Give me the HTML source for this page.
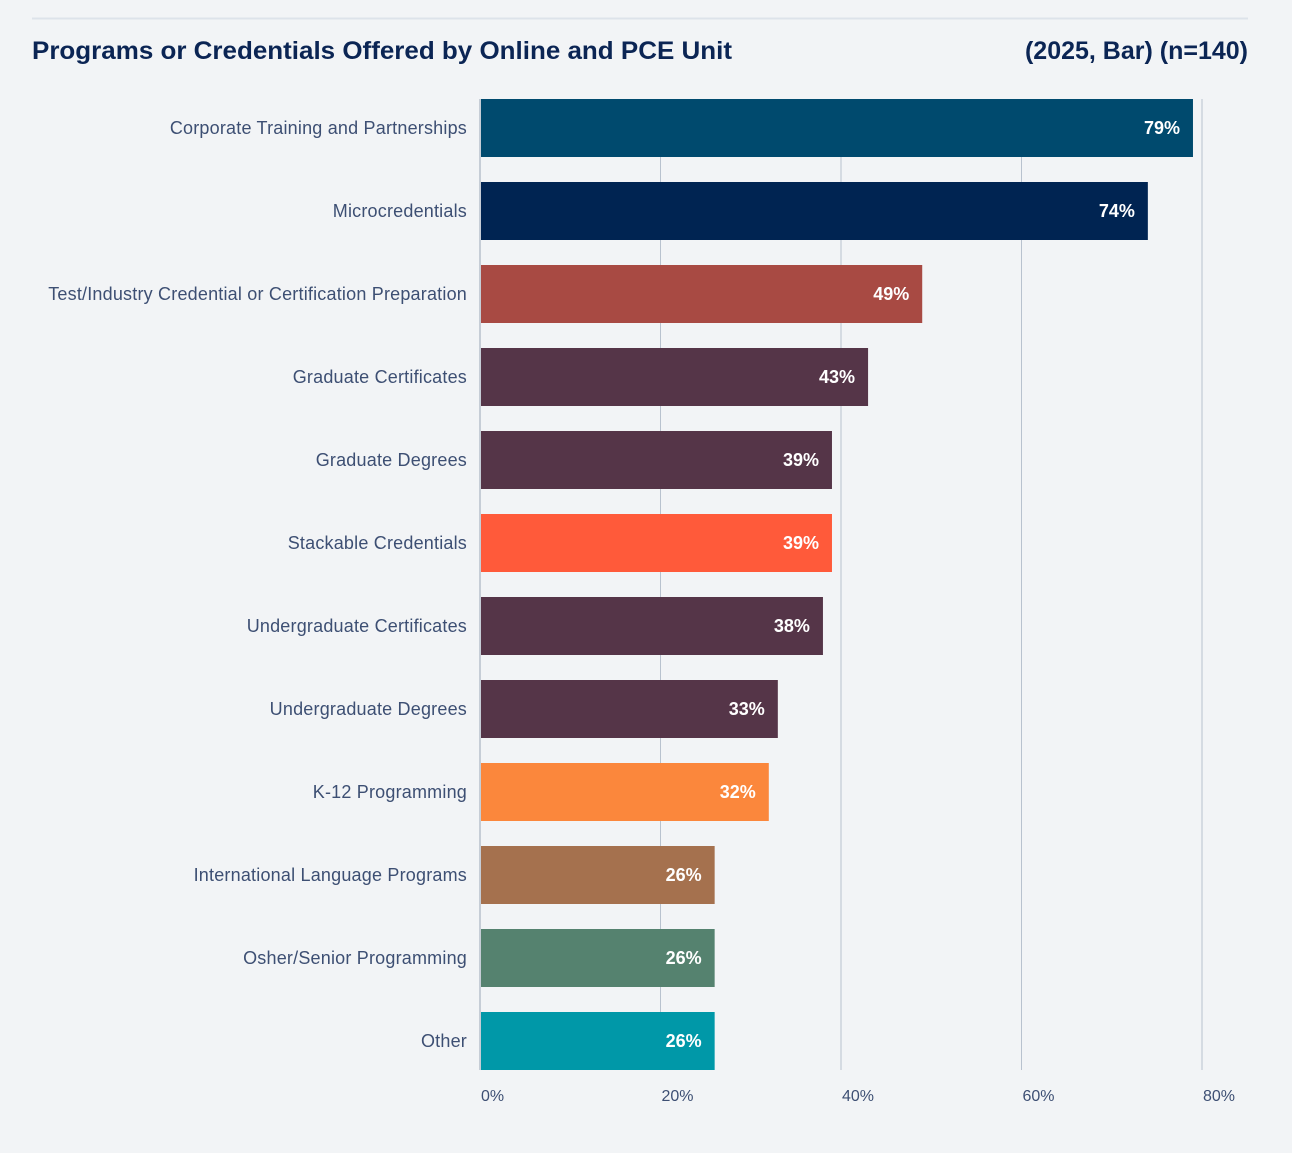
<!DOCTYPE html>
<html><head><meta charset="utf-8"><style>
html,body{margin:0;padding:0;background:#f2f4f6;}
svg{display:block;font-family:"Liberation Sans",sans-serif;}
</style></head><body>
<svg id="chart" width="1292" height="1153" viewBox="0 0 1292 1153">
<rect x="0" y="0" width="1292" height="1153" fill="#f2f4f6"/>
<line x1="32" y1="18.5" x2="1248" y2="18.5" stroke="#dde3ea" stroke-width="2"/>
<text x="32" y="59" font-size="25" font-weight="bold" fill="#0b2554" textLength="700" lengthAdjust="spacingAndGlyphs">Programs or Credentials Offered by Online and PCE Unit</text>
<text x="1248" y="59" font-size="25" font-weight="bold" fill="#0b2554" text-anchor="end">(2025, Bar) (n=140)</text>
<g id="grid"></g><g id="bars"></g><g id="labels"></g><g id="ticks"></g>
</svg>
<script>
const categories=["Corporate Training and Partnerships","Microcredentials","Test/Industry Credential or Certification Preparation","Graduate Certificates","Graduate Degrees","Stackable Credentials","Undergraduate Certificates","Undergraduate Degrees","K-12 Programming","International Language Programs","Osher/Senior Programming","Other"];
const values=[79,74,49,43,39,39,38,33,32,26,26,26];
const barColors=["#004a6e","#002452","#a84a43","#553548","#553548","#ff5a3a","#553548","#553548","#fb873c","#a5714e","#55826f","#0098a8"];
const tickValues=[0,20,40,60,80];
const tickLabels=["0%","20%","40%","60%","80%"];
const NS="http://www.w3.org/2000/svg";
const x0=480,pxPer=9.025,top0=99,pitch=83,bh=58;
const xs=v=>x0+v*pxPer;
const ys=i=>top0+i*pitch;
function mk(t,a,p){const e=document.createElementNS(NS,t);for(const k in a)e.setAttribute(k,a[k]);p.appendChild(e);return e;}
const grid=document.getElementById('grid'),bars=document.getElementById('bars'),labels=document.getElementById('labels'),ticks=document.getElementById('ticks');
const yEnd=ys(categories.length-1)+bh;
tickValues.forEach((v,i)=>{
 const l=mk('line',{x1:xs(v),x2:xs(v),y1:top0,y2:yEnd,stroke:i==0?'#9aa6b6':'#b8c2ce','stroke-width':1},grid);
 
 
 const t=mk('text',{x:xs(v)+1,y:1101,'font-size':16,fill:'#3d4f73'},ticks);
 t.textContent=tickLabels[i];
 
 
});
categories.forEach((c,i)=>{
 const r=mk('rect',{x:x0+1,y:ys(i),width:xs(values[i])-x0-1,height:bh,fill:barColors[i]},bars);
 
 
 const lb=mk('text',{x:467,y:ys(i)+bh/2+6,'font-size':18,'letter-spacing':'0.2',fill:'#3d4f73','text-anchor':'end'},labels);
 lb.textContent=c;
 
 
 const vl=mk('text',{x:xs(values[i])-13,y:ys(i)+bh/2+6,'font-size':18,'font-weight':'bold',fill:'#ffffff','text-anchor':'end'},labels);
 vl.textContent=values[i]+'%';
 
 
});
</script>
</body></html>
